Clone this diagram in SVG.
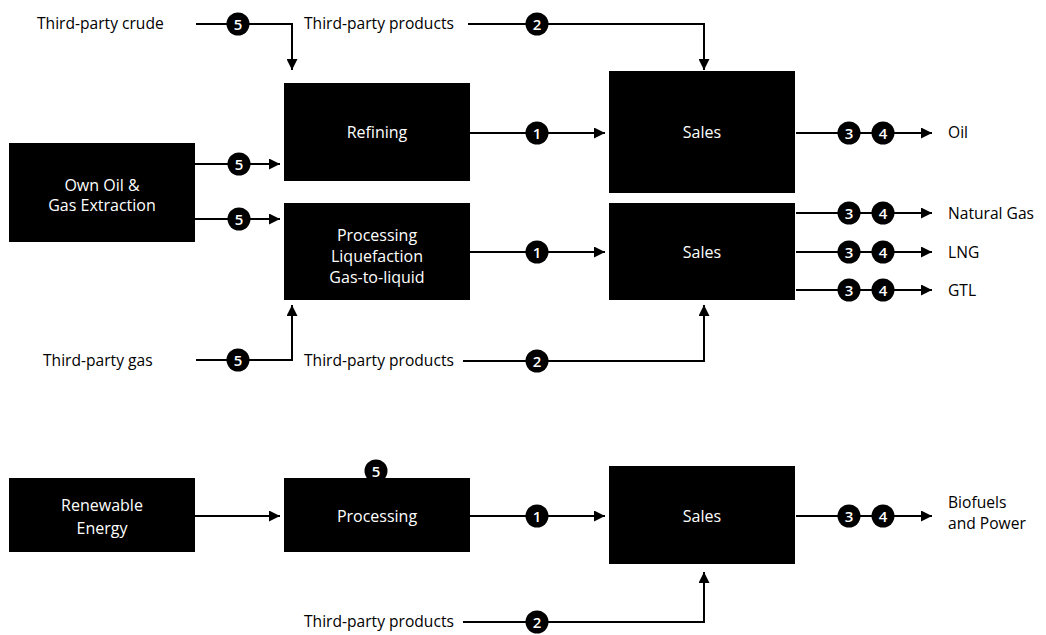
<svg xmlns="http://www.w3.org/2000/svg" width="1046" height="635" viewBox="0 0 1046 635">
<defs>
<marker id="ah" viewBox="0 0 10 10" refX="10" refY="5" markerWidth="11" markerHeight="11" markerUnits="userSpaceOnUse" orient="auto">
<path d="M0,0 L10,5 L0,10 Z" fill="#000"/>
</marker>
<style>
.box{fill:#000}
.bt{fill:#fff;font-family:"Open Sans",Lato,sans-serif;font-size:16px;text-anchor:middle;dominant-baseline:central}
.lbl{fill:#000;font-family:"Open Sans",Lato,sans-serif;font-size:15.6px;dominant-baseline:central}
.ln{fill:none;stroke:#000;stroke-width:2}
.ar{marker-end:url(#ah)}
.cn{fill:#000}
.ct{fill:#fff;font-family:"Open Sans",Lato,sans-serif;font-size:15px;font-weight:600;text-anchor:middle;dominant-baseline:central}
</style>
</defs>
<rect width="1046" height="635" fill="#fff"/>

<g id="connectors">
<path class="ln ar" d="M196,24 H292 V70"/>
<path class="ln ar" d="M468,24 H704 V70"/>
<path class="ln ar" d="M470,133 H605"/>
<path class="ln ar" d="M796,133 H932"/>
<path class="ln ar" d="M195,164 H280"/>
<path class="ln ar" d="M195,219 H280"/>
<path class="ln ar" d="M196,360 H292 V305"/>
<path class="ln ar" d="M463,361 H704 V305"/>
<path class="ln ar" d="M470,252 H605"/>
<path class="ln ar" d="M796,213 H932"/>
<path class="ln ar" d="M796,252 H932"/>
<path class="ln ar" d="M796,290 H932"/>
<path class="ln ar" d="M195,516 H280"/>
<path class="ln ar" d="M470,516 H605"/>
<path class="ln ar" d="M796,516 H932"/>
<path class="ln ar" d="M463,622 H704 V572"/>
</g>

<g id="badges">
<g><circle class="cn" cx="238" cy="24" r="11.5"/><text class="ct" x="238" y="24">5</text></g>
<g><circle class="cn" cx="537" cy="24" r="11.5"/><text class="ct" x="537" y="24">2</text></g>
<g><circle class="cn" cx="537" cy="133" r="11.5"/><text class="ct" x="537" y="133">1</text></g>
<g><circle class="cn" cx="849" cy="133" r="11.5"/><text class="ct" x="849" y="133">3</text></g>
<g><circle class="cn" cx="883" cy="133" r="11.5"/><text class="ct" x="883" y="133">4</text></g>
<g><circle class="cn" cx="239" cy="164" r="11.5"/><text class="ct" x="239" y="164">5</text></g>
<g><circle class="cn" cx="239" cy="219" r="11.5"/><text class="ct" x="239" y="219">5</text></g>
<g><circle class="cn" cx="238" cy="360" r="11.5"/><text class="ct" x="238" y="360">5</text></g>
<g><circle class="cn" cx="537" cy="361" r="11.5"/><text class="ct" x="537" y="361">2</text></g>
<g><circle class="cn" cx="537" cy="252" r="11.5"/><text class="ct" x="537" y="252">1</text></g>
<g><circle class="cn" cx="849" cy="213" r="11.5"/><text class="ct" x="849" y="213">3</text></g>
<g><circle class="cn" cx="883" cy="213" r="11.5"/><text class="ct" x="883" y="213">4</text></g>
<g><circle class="cn" cx="849" cy="252" r="11.5"/><text class="ct" x="849" y="252">3</text></g>
<g><circle class="cn" cx="883" cy="252" r="11.5"/><text class="ct" x="883" y="252">4</text></g>
<g><circle class="cn" cx="849" cy="290" r="11.5"/><text class="ct" x="849" y="290">3</text></g>
<g><circle class="cn" cx="883" cy="290" r="11.5"/><text class="ct" x="883" y="290">4</text></g>
<g><circle class="cn" cx="376" cy="471" r="11.5"/><text class="ct" x="376" y="471">5</text></g>
<g><circle class="cn" cx="537" cy="516" r="11.5"/><text class="ct" x="537" y="516">1</text></g>
<g><circle class="cn" cx="849" cy="516" r="11.5"/><text class="ct" x="849" y="516">3</text></g>
<g><circle class="cn" cx="883" cy="516" r="11.5"/><text class="ct" x="883" y="516">4</text></g>
<g><circle class="cn" cx="537" cy="622" r="11.5"/><text class="ct" x="537" y="622">2</text></g>
</g>

<g id="labels">
<text class="lbl" x="37" y="23">Third-party crude</text>
<text class="lbl" x="304" y="23">Third-party products</text>
<text class="lbl" x="43" y="360">Third-party gas</text>
<text class="lbl" x="304" y="360">Third-party products</text>
<text class="lbl" x="304" y="621">Third-party products</text>
<text class="lbl" x="948" y="132">Oil</text>
<text class="lbl" x="948" y="213">Natural Gas</text>
<text class="lbl" x="948" y="252">LNG</text>
<text class="lbl" x="948" y="290">GTL</text>
<text class="lbl" x="948" y="502">Biofuels</text>
<text class="lbl" x="948" y="523">and Power</text>
</g>

<g id="own-oil-gas"><rect class="box" x="9" y="143" width="186" height="99"/><text class="bt" x="102" y="185">Own Oil &amp;</text><text class="bt" x="102" y="205">Gas Extraction</text></g>
<g id="refining"><rect class="box" x="284" y="83" width="186" height="98"/><text class="bt" x="377" y="132">Refining</text></g>
<g id="processing-gas"><rect class="box" x="284" y="203" width="186" height="97"/><text class="bt" x="377" y="235">Processing</text><text class="bt" x="377" y="256">Liquefaction</text><text class="bt" x="377" y="277">Gas-to-liquid</text></g>
<g id="sales-oil"><rect class="box" x="609" y="71" width="186" height="122"/><text class="bt" x="702" y="132">Sales</text></g>
<g id="sales-gas"><rect class="box" x="609" y="203" width="186" height="97"/><text class="bt" x="702" y="252">Sales</text></g>
<g id="renewable"><rect class="box" x="9" y="478" width="186" height="74"/><text class="bt" x="102" y="505">Renewable</text><text class="bt" x="102" y="528">Energy</text></g>
<g id="processing-renew"><rect class="box" x="284" y="478" width="186" height="74"/><text class="bt" x="377" y="516">Processing</text></g>
<g id="sales-renew"><rect class="box" x="609" y="466" width="186" height="98"/><text class="bt" x="702" y="516">Sales</text></g>
</svg>
